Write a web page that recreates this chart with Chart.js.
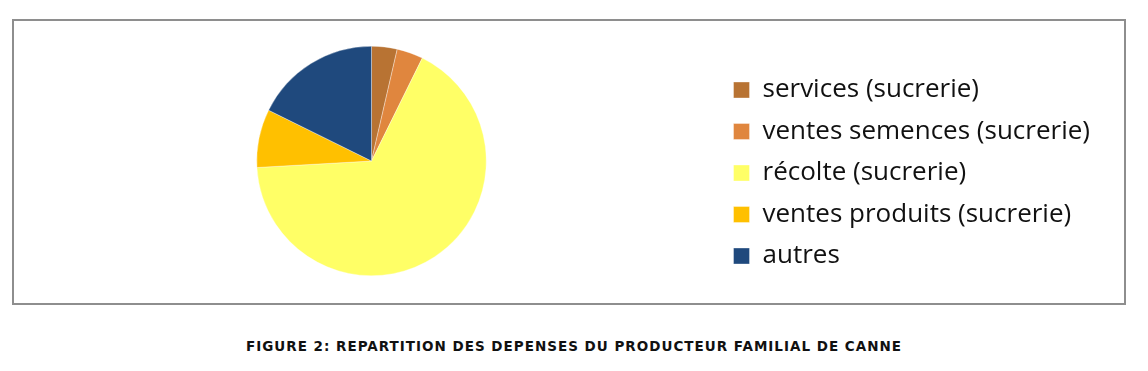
<!DOCTYPE html>
<html>
<head>
<meta charset="utf-8">
<script src="https://cdn.jsdelivr.net/npm/chart.js@4/dist/chart.umd.min.js"></script>
<style>
  html, body { margin: 0; padding: 0; background: #fff; }
  body { width: 1148px; height: 371px; position: relative; overflow: hidden; }
  #box {
    position: absolute; left: 12px; top: 19px;
    width: 1110px; height: 282px;
    border: 2px solid #8e8e8e;
  }
  #caption {
    position: absolute; left: 0; top: 338px; width: 1148px;
    text-align: center; font-family: "DejaVu Sans", sans-serif; font-weight: bold;
    font-size: 13.5px; letter-spacing: 1px; color: #111;
  }
</style>
</head>
<body>
<div id="box"><canvas id="myChart" width="1110" height="282"></canvas></div>
<div id="caption">FIGURE 2: REPARTITION DES DEPENSES DU PRODUCTEUR FAMILIAL DE CANNE</div>
<script>
const categories = [
  'services (sucrerie)',
  'ventes semences (sucrerie)',
  'récolte (sucrerie)',
  'ventes produits (sucrerie)',
  'autres'
];
const values = [3.6, 3.7, 66.8, 8.2, 17.7];
const colors = ['#B87333', '#E0863E', '#FFFF66', '#FFC000', '#1F497D'];

// legend sits a little lower than the pie's middle in the original
const legendShift = {
  id: 'legendShift',
  afterLayout(chart) {
    chart.legend.top += 12;
    chart.legend.bottom += 12;
  },
};

const ctx = document.getElementById('myChart').getContext('2d');
new Chart(ctx, {
  type: 'pie',
  data: {
    labels: categories,
    datasets: [{
      data: values,
      backgroundColor: colors,
      borderColor: 'rgba(255,255,255,0.7)',
      borderWidth: 0.5,
    }],
  },
  options: {
    responsive: false,
    animation: false,
    layout: { padding: { top: 25, bottom: 27, left: 11, right: 24 } },
    plugins: {
      tooltip: { enabled: false },
      legend: {
        position: 'right',
        align: 'center',
        labels: {
          boxWidth: 16,
          boxHeight: 16,
          padding: 15.5,
          color: '#111',
          font: { family: 'Open Sans', size: 26 },
        },
      },
    },
  },
  plugins: [legendShift],
});
</script>
</body>
</html>
